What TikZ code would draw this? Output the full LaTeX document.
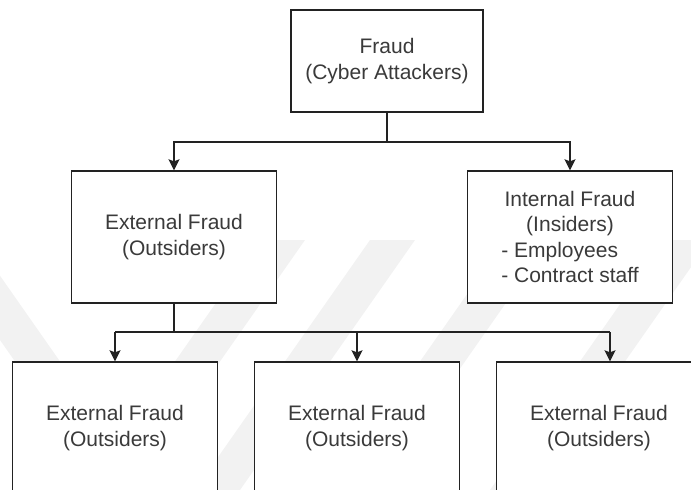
\documentclass[tikz,border=0pt]{standalone}
\usepackage{fontspec}
\setmainfont{Liberation Sans}
\usetikzlibrary{arrows.meta}
\definecolor{inkline}{HTML}{222222}
\definecolor{inktext}{HTML}{3A3A3A}
\definecolor{band}{HTML}{F2F2F2}
\begin{document}
\begin{tikzpicture}[x=1pt,y=-1pt,
  box/.style={draw=inkline, line width=1.4pt, fill=white, rectangle,
    inner sep=0pt, align=center, text=inktext,
    font=\fontsize{21}{25.5}\selectfont},
  wide/.style={box, minimum width=205pt, minimum height=132pt},
  link/.style={draw=inkline, line width=1.4pt},
  arrowlink/.style={link, -{Stealth[length=11pt,width=11pt,inset=2pt]}}]
\useasboundingbox (0,0) rectangle (691,490);
\begin{scope}
  \clip (0,0) rectangle (691,490);
  % faint diagonal bands in the background
  \fill[band] (-70,240) -- (-25,240) -- (150,490) -- (105,490) -- cycle;
  \fill[band] (260,240) -- (305,240) -- (130,490) -- (85,490) -- cycle;
  \fill[band] (370,240) -- (415,240) -- (240,490) -- (195,490) -- cycle;
  \fill[band] (505,240) -- (550,240) -- (375,490) -- (330,490) -- cycle;
  \fill[band] (665,240) -- (710,240) -- (535,490) -- (490,490) -- cycle;

  % boxes
  \node[box, minimum width=192pt, minimum height=102pt] (top) at (387,61)
    {Fraud\\(Cyber Attackers)};
  \node[wide] (ext) at (174,237) {External Fraud\\(Outsiders)};
  \node[wide] (int) at (570,237)
    {Internal Fraud\\(Insiders)\\\rlap{- Employees}\phantom{- Contract staff}\\- Contract staff};
  \node[wide] (b1) at (115,428) {External Fraud\\(Outsiders)};
  \node[wide] (b2) at (357,428) {External Fraud\\(Outsiders)};
  \node[wide] (b3) at (599,428) {External Fraud\\(Outsiders)};

  % connectors
  \coordinate (j1) at (387,142);
  \coordinate (j2) at (174,332);
  \coordinate (k1) at (115,332);
  \coordinate (k2) at (357,332);
  \coordinate (k3) at (610,332);
  \draw[link] (top.south) -- (j1);
  \draw[arrowlink] (j1) -| (ext.north);
  \draw[arrowlink] (j1) -| (int.north);
  \draw[link] (ext.south) -- (j2);
  \draw[link] (k1) -- (k3);
  \draw[arrowlink] (k1) -- (b1.north);
  \draw[arrowlink] (k2) -- (b2.north);
  \draw[arrowlink] (k3) -- (k3 |- b3.north);
\end{scope}
\end{tikzpicture}
\end{document}
